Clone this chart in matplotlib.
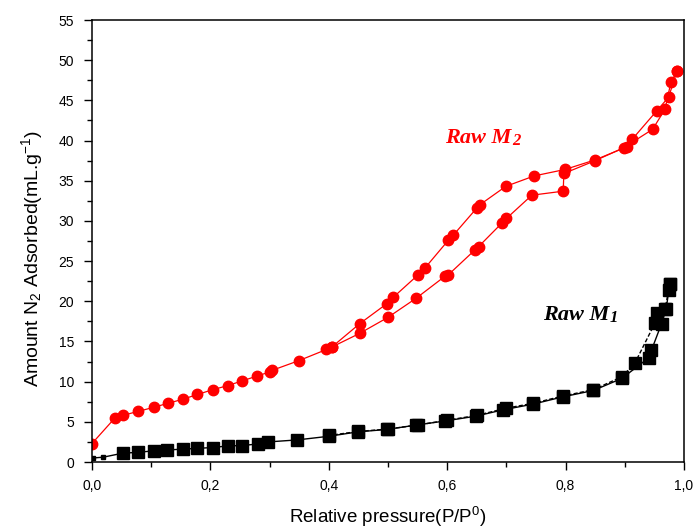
# -*- coding: utf-8 -*-

# N2 isotherms for Raw M1 / Raw M2

import numpy as np
import matplotlib
matplotlib.use("Agg")
import matplotlib.pyplot as plt
from matplotlib.ticker import MultipleLocator, FuncFormatter

# Raw M2 (red) - adsorption / desorption branches
m2_ads_p = [0.0, 0.039, 0.052, 0.078, 0.104, 0.128, 0.153, 0.178, 0.204, 0.229, 0.254, 0.279,
            0.30, 0.304, 0.349, 0.396, 0.405, 0.452, 0.50, 0.548, 0.596, 0.602, 0.647, 0.653,
            0.692, 0.70, 0.743, 0.796, 0.797, 0.85, 0.898, 0.947, 0.968, 0.978, 0.988]
m2_ads_v = [2.3, 5.5, 5.8, 6.3, 6.8, 7.3, 7.8, 8.4, 9.0, 9.5, 10.1, 10.7,
            11.2, 11.4, 12.6, 14.0, 14.3, 16.0, 18.0, 20.4, 23.1, 23.3, 26.4, 26.8,
            29.7, 30.3, 33.2, 33.7, 35.9, 37.5, 39.1, 41.4, 43.9, 47.3, 48.6]
m2_des_p = [0.988, 0.974, 0.954, 0.913, 0.903, 0.85, 0.799, 0.747, 0.699, 0.655, 0.65,
            0.61, 0.602, 0.562, 0.551, 0.509, 0.498, 0.452, 0.405]
m2_des_v = [48.6, 45.4, 43.7, 40.2, 39.2, 37.6, 36.4, 35.6, 34.3, 32.0, 31.6,
            28.2, 27.6, 24.1, 23.3, 20.5, 19.7, 17.2, 14.3]

# Raw M1 (black)
m1_ads_p = [0.002, 0.019, 0.052, 0.078, 0.105, 0.127, 0.154, 0.178, 0.204, 0.229, 0.254, 0.281,
            0.298, 0.347, 0.40, 0.449, 0.498, 0.548, 0.596, 0.648, 0.695, 0.745, 0.795, 0.847,
            0.895, 0.941, 0.945, 0.962, 0.97, 0.976]
m1_ads_v = [0.5, 0.6, 1.1, 1.2, 1.4, 1.5, 1.6, 1.7, 1.8, 2.0, 2.05, 2.25,
            2.5, 2.75, 3.2, 3.75, 4.05, 4.6, 5.1, 5.7, 6.5, 7.2, 8.1, 8.9,
            10.4, 13.0, 13.9, 17.2, 19.1, 22.2]
m1_des_p = [0.976, 0.974, 0.968, 0.954, 0.951, 0.917, 0.895, 0.847, 0.795, 0.745, 0.70,
            0.65, 0.60, 0.55, 0.50, 0.45, 0.40]
m1_des_v = [22.2, 21.4, 19.0, 18.5, 17.3, 12.3, 10.6, 9.0, 8.2, 7.3, 6.7,
            5.8, 5.2, 4.6, 4.1, 3.8, 3.3]

plt.rcParams['font.family'] = ['Liberation Sans', 'DejaVu Sans']
plt.rcParams['mathtext.fontset'] = 'custom'
plt.rcParams['mathtext.rm'] = 'Liberation Sans'
plt.rcParams['mathtext.it'] = 'Liberation Sans:italic'

fig = plt.figure(figsize=(6.98, 5.30), dpi=100)
ax = fig.add_axes([92 / 698, 68 / 530, 592 / 698, 442 / 530])

red = '#ff0000'
ax.plot(m2_ads_p, m2_ads_v, color=red, lw=0.9, marker='o', ms=7.5, mec=red, mfc=red)
ax.plot(m2_des_p, m2_des_v, color=red, lw=0.9, marker='o', ms=7.5, mec=red, mfc=red)

# black: line through everything, first two points drawn small like the original
ax.plot(m1_ads_p, m1_ads_v, color='black', lw=1.0)
ax.plot(m1_ads_p[2:], m1_ads_v[2:], ls='none', marker='s', ms=8, color='black')
ax.plot(m1_ads_p[:2], m1_ads_v[:2], ls='none', marker='s', ms=3.5, color='black')
ax.plot(m1_des_p, m1_des_v, color='black', lw=1.0, ls=(0, (3, 1.5)), marker='s', ms=8,
        mec='black', mfc='black')

ax.set_xlim(0, 1.0)
ax.set_ylim(0, 55)
ax.xaxis.set_major_locator(MultipleLocator(0.2))
ax.xaxis.set_minor_locator(MultipleLocator(0.1))
ax.yaxis.set_major_locator(MultipleLocator(5))
ax.yaxis.set_minor_locator(MultipleLocator(2.5))
ax.xaxis.set_major_formatter(FuncFormatter(lambda v, p: f"{v:.1f}".replace('.', ',')))
ax.tick_params(which='major', direction='out', length=6, width=1, labelsize=10)
ax.tick_params(which='minor', direction='out', length=3.5, width=1)
ax.tick_params(axis='x', pad=6.5)
ax.tick_params(axis='y', pad=7)
for s in ax.spines.values():
    s.set_linewidth(1.1)

ax.set_xlabel('Relative pressure(P/P$^0$)', fontsize=13.5)
ax.set_ylabel('Amount N$_2$ Adsorbed(mL.g$^{-1}$)', fontsize=14)
ax.xaxis.set_label_coords(0.5, -0.098)
ax.yaxis.set_label_coords(-0.08, 0.46)

# sample labels, with a slightly smaller index after the M
t2 = ax.text(0.596, 39.7, 'Raw M', color=red, fontsize=16, family='Liberation Serif',
             style='italic', weight='bold', ha='left', va='baseline')
ax.annotate('2', xy=(1, 0), xycoords=t2, xytext=(0.5, -1.0), textcoords='offset points',
            color=red, fontsize=12, family='Liberation Serif', style='italic', weight='bold',
            ha='left', va='bottom')
t1 = ax.text(0.762, 17.7, 'Raw M', color='black', fontsize=16, family='Liberation Serif',
             style='italic', weight='bold', ha='left', va='baseline')
ax.annotate('1', xy=(1, 0), xycoords=t1, xytext=(0.5, -1.0), textcoords='offset points',
            color='black', fontsize=12, family='Liberation Serif', style='italic', weight='bold',
            ha='left', va='bottom')

fig.savefig('out.png', dpi=100)
